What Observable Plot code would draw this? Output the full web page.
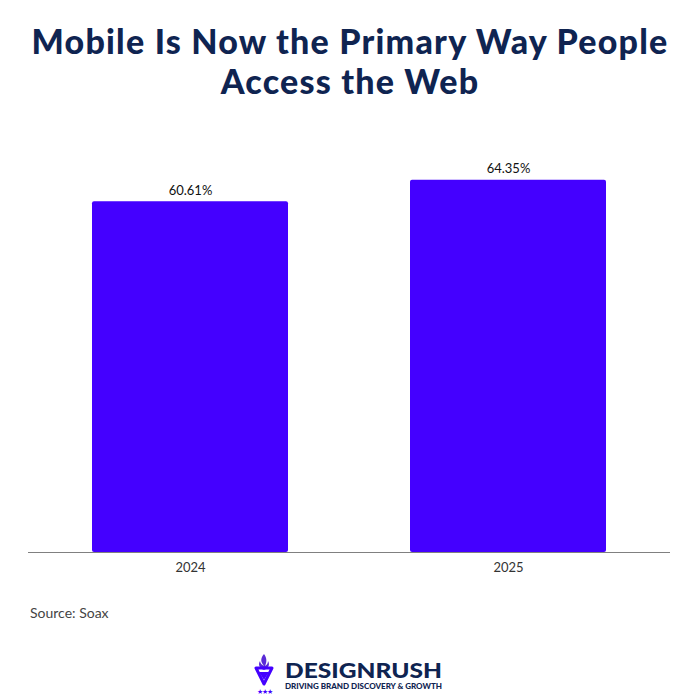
<!DOCTYPE html>
<html>
<head>
<meta charset="utf-8">
<script src="https://cdn.jsdelivr.net/npm/d3@7"></script>
<script src="https://cdn.jsdelivr.net/npm/@observablehq/plot@0.6"></script>
<style>
  html, body { margin: 0; padding: 0; background: #fff; }
  #page { position: relative; width: 700px; height: 700px; overflow: hidden; font-family: Lato, "Noto Sans", sans-serif; }
  #title { position: absolute; top: 21px; left: 0; width: 700px; text-align: center; font-weight: 900; font-size: 34px; line-height: 40px; color: #0f2451; letter-spacing: 1.2px; }
  #chart { position: absolute; top: 120px; left: 0; }
  #source { position: absolute; top: 604px; left: 30px; font-size: 14px; color: #444; }
  #logo { position: absolute; top: 650px; left: 250px; }
</style>
</head>
<body>
<div id="page">
  <div id="title">Mobile Is Now the Primary Way People<br>Access the Web</div>
  <div id="chart"></div>
  <div id="source">Source: Soax</div>
  <svg id="logo" width="200" height="48" viewBox="0 0 200 48">
    <path d="M14 4 C9 10 12 13 14 16 C12 15 10 13 10 11 C8 14 9 18 14 20 C19 18 20 14 18 11 C18 13 17 15 15 16 C17 12 17 8 14 4 Z" fill="#5a2bd6"/>
    <path d="M6 18 L22 18 L14 34 Z" fill="none" stroke="#4400ff" stroke-width="3" stroke-linejoin="round"/>
    <path d="M9 22 L19 22 L14 30 Z" fill="#4400ff"/>
    <text x="7" y="44" font-size="7" fill="#4400ff">★</text>
    <text x="12" y="44" font-size="7" fill="#4400ff">★</text>
    <text x="17" y="44" font-size="7" fill="#4400ff">★</text>
    <text x="35" y="28" font-family="Lato, sans-serif" font-weight="900" font-size="21" fill="#0f2451" textLength="157" lengthAdjust="spacingAndGlyphs">DESIGNRUSH</text>
    <text x="35" y="39" font-family="Lato, sans-serif" font-weight="900" font-size="8" fill="#0f2451" textLength="157" lengthAdjust="spacingAndGlyphs">DRIVING BRAND DISCOVERY &amp; GROWTH</text>
  </svg>
</div>
<script>
const years = ["2024", "2025"];
const shares = [60.61, 64.35];
const valueLabels = ["60.61%", "64.35%"];

const data = years.map((y, i) => ({year: y, share: shares[i], label: valueLabels[i]}));

const chart = Plot.plot({
  width: 700,
  height: 470,
  marginTop: 27,
  marginBottom: 38,
  marginLeft: 28,
  marginRight: 30,
  style: {fontFamily: "Lato, 'Noto Sans', sans-serif", fontSize: "13px", color: "#333", background: "#fff"},
  x: {domain: years, paddingInner: 0.385, paddingOuter: 0.2, label: null, tickSize: 0, tickPadding: 10},
  y: {domain: [0, 70], axis: null},
  marks: [
    Plot.barY(data, {x: "year", y: "share", fill: "#4400ff", rx: 2}),
    Plot.ruleY([0], {stroke: "#808080", strokeWidth: 1.2}),
    Plot.text(data, {x: "year", y: "share", text: "label", dy: -11, fontSize: 13, fill: "#111"})
  ]
});
document.getElementById("chart").appendChild(chart);
</script>
</body>
</html>
